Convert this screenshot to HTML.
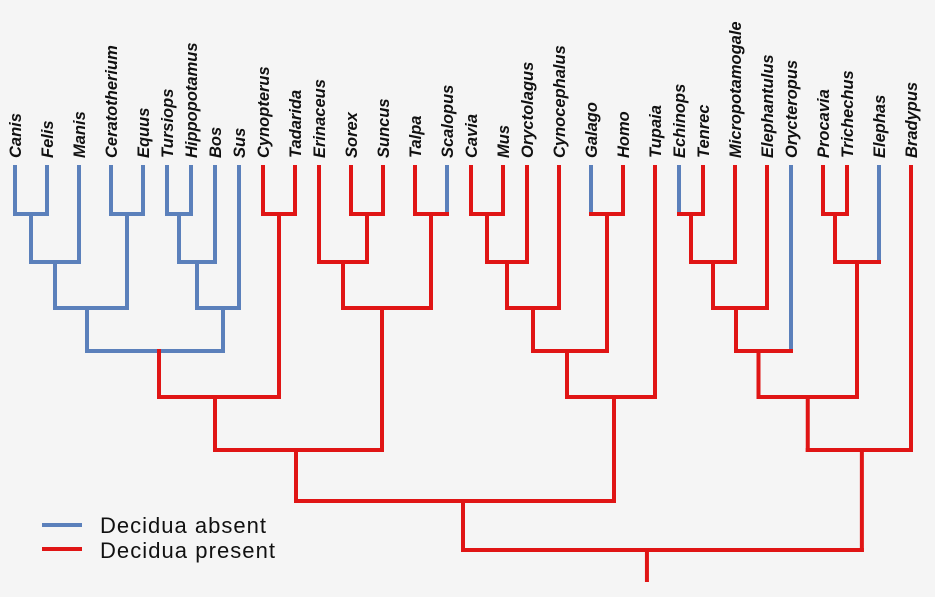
<!DOCTYPE html>
<html><head><meta charset="utf-8"><style>
html,body{margin:0;padding:0;background:#f5f5f5;}
svg{display:block;}
text{font-family:"Liberation Sans",sans-serif;}
</style></head><body>
<svg id="chart" width="935" height="597" viewBox="0 0 935 597">
<rect x="0" y="0" width="935" height="597" fill="#f5f5f5"/>
<g id="tree"></g>
<g id="legend">
<line x1="42" y1="525" x2="82" y2="525" stroke="#5b80bb" stroke-width="4"/>
<text x="100" y="533" font-size="22" fill="#111" textLength="166">Decidua absent</text>
<line x1="42" y1="549" x2="82" y2="549" stroke="#e01515" stroke-width="4"/>
<text x="100" y="558" font-size="22" fill="#111" textLength="175">Decidua present</text>
</g>
</svg>
<script>
const leafNames = ["Canis","Felis","Manis","Ceratotherium","Equus","Tursiops","Hippopotamus","Bos","Sus","Cynopterus","Tadarida","Erinaceus","Sorex","Suncus","Talpa","Scalopus","Cavia","Mus","Oryctolagus","Cynocephalus","Galago","Homo","Tupaia","Echinops","Tenrec","Micropotamogale","Elephantulus","Orycteropus","Procavia","Trichechus","Elephas","Bradypus"];
const leafDecidua = [0,0,0,0,0,0,0,0,0,1,1,1,1,1,1,0,1,1,1,1,0,1,1,0,1,1,1,0,1,1,0,1];
const leafSlot = [0,4,8,12,16,19,22,25,28,31,35,38,42,46,50,54,57,61,64,68,72,76,80,83,86,90,94,97,101,104,108,112];
// merges: [left, right, level]
const mergeNodes = [[0,1,1],[32,2,2],[3,4,1],[33,34,3],[5,6,1],[36,7,2],[37,8,3],[35,38,4],[9,10,1],[39,40,5],[12,13,1],[11,42,2],[14,15,1],[43,44,3],[41,45,6],[16,17,1],[47,18,2],[48,19,3],[20,21,1],[49,50,4],[51,22,5],[46,52,7],[23,24,1],[54,25,2],[55,26,3],[56,27,4],[28,29,1],[58,30,2],[57,59,5],[60,31,6],[53,61,8]];
const mergeHDecidua = [0,0,0,0,0,0,0,0,1,1,1,1,1,1,1,1,1,1,1,1,1,1,1,1,1,1,1,1,1,1,1];
const mergeStemDecidua = [0,0,0,0,0,0,0,1,1,1,1,1,1,1,1,1,1,1,1,1,1,1,1,1,1,1,1,1,1,1,1];
const levelY = [167,214,262,308,351,397,450,501,550];
// small drawing nudges of the stem position relative to the midpoint (layout, px)
const stemNudge = [0,0,0,-4,0,0,5,4,0,-4,0,0,0,-5,-2.5,0,0,0,0,-3,3,8,0,0,-4,-5,0,0,0,2.5,-15.5];

const NS="http://www.w3.org/2000/svg";
const tree=document.getElementById('tree');
const col=d=>d?'#e01515':'#5b80bb';
const xOf=s=>15+8*s;
const X=[],Y=[],stemCol=[];
leafNames.forEach((n,i)=>{X[i]=xOf(leafSlot[i]);Y[i]=levelY[0];stemCol[i]=col(leafDecidua[i]);
 const t=document.createElementNS(NS,'text');
 
 
 t.setAttribute('transform','translate('+(X[i]+6)+',158) rotate(-90)');
 t.setAttribute('font-size','16.5');t.setAttribute('font-style','italic');t.setAttribute('font-weight','bold');t.setAttribute('fill','#111');
 t.textContent=n;tree.appendChild(t);});
function ln(x1,y1,x2,y2,c,name){const l=document.createElementNS(NS,'line');
 l.setAttribute('x1',x1);l.setAttribute('y1',y1);l.setAttribute('x2',x2);l.setAttribute('y2',y2);
 l.setAttribute('stroke',c);l.setAttribute('stroke-width','4');l.setAttribute('stroke-linecap','square');
 
 
 tree.appendChild(l);}
mergeNodes.forEach((m,k)=>{const id=32+k,[a,b,lv]=m,y=levelY[lv];
 ln(X[a],Y[a],X[a],y,stemCol[a],'branch-'+a);
 ln(X[b],Y[b],X[b],y,stemCol[b],'branch-'+b);
 ln(X[a],y,X[b],y,col(mergeHDecidua[k]),'node-'+id);
 X[id]=(X[a]+X[b])/2+stemNudge[k];Y[id]=y;stemCol[id]=col(mergeStemDecidua[k]);});
const root=32+mergeNodes.length-1;
ln(X[root],Y[root],X[root],580,stemCol[root],'root-stem');
</script>
</body></html>
